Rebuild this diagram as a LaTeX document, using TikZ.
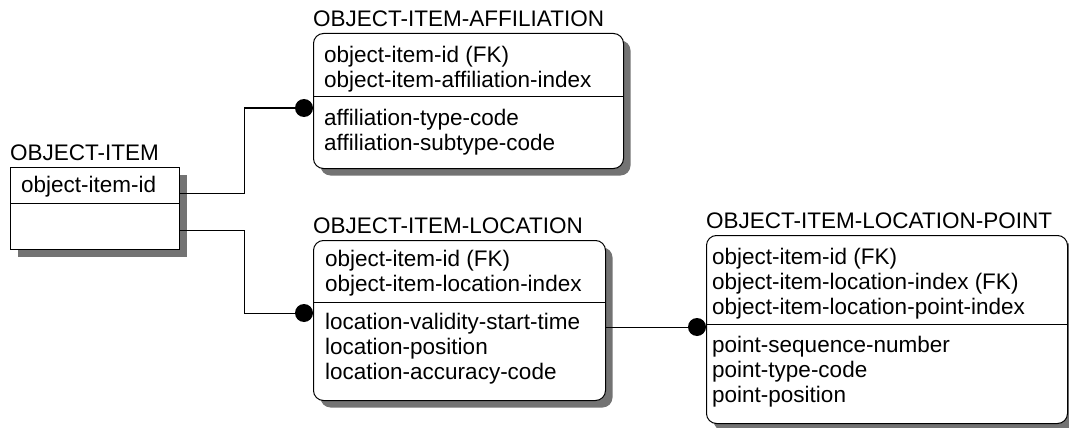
\documentclass[tikz,border=0pt]{standalone}
\usepackage{fontspec}
\setmainfont{Liberation Sans}
\usetikzlibrary{shadows}
\begin{document}
\begin{tikzpicture}[x=1pt,y=-1pt,
  every node/.style={font=\fontsize{22.5}{25}\selectfont},
  ent/.style={draw=black, line width=1pt, fill=white, anchor=north west, inner sep=0pt,
    drop shadow={shadow xshift=7pt, shadow yshift=-7pt, fill=black!55, opacity=1}},
  rent/.style={ent, rounded corners=10pt},
  lbl/.style={anchor=base west, inner sep=0pt},
  rel/.style={draw=black, line width=1pt},
  dot/.style={circle, fill=black, inner sep=0pt, minimum size=18pt}]
\useasboundingbox (0,0) rectangle (1069,428);

% entity boxes
\node[ent,  minimum width=169pt, minimum height=82pt]  (oi)   at (10,167)  {};
\node[rent, minimum width=310pt, minimum height=135pt] (oia)  at (313,33)  {};
\node[rent, minimum width=292pt, minimum height=160pt] (oil)  at (313,240) {};
\node[rent, minimum width=361pt, minimum height=188pt] (oilp) at (706,235) {};

% key / non-key separators
\draw[line width=1pt] (oi.west |- 0,203)   -- (oi.east |- 0,203);
\draw[line width=1pt] (oia.west |- 0,97)   -- (oia.east |- 0,97);
\draw[line width=1pt] (oil.west |- 0,302)  -- (oil.east |- 0,302);
\draw[line width=1pt] (oilp.west |- 0,324) -- (oilp.east |- 0,324);

% entity names
\node[lbl] (oi-t)   at (10,160)  {OBJECT-ITEM};
\node[lbl] (oia-t)  at (313,27)  {OBJECT-ITEM-AFFILIATION};
\node[lbl] (oil-t)  at (313,233) {OBJECT-ITEM-LOCATION};
\node[lbl] (oilp-t) at (706,228) {OBJECT-ITEM-LOCATION-POINT};

% OBJECT-ITEM attributes
\node[lbl] (oi-k1) at (21,192) {object-item-id};

% OBJECT-ITEM-AFFILIATION attributes
\node[lbl] (oia-k1) at (324,63)  {object-item-id (FK)};
\node[lbl] (oia-k2) at (324,88)  {object-item-affiliation-index};
\node[lbl] (oia-a1) at (324,125) {affiliation-type-code};
\node[lbl] (oia-a2) at (324,150) {affiliation-subtype-code};

% OBJECT-ITEM-LOCATION attributes
\node[lbl] (oil-k1) at (325,266) {object-item-id (FK)};
\node[lbl] (oil-k2) at (325,291) {object-item-location-index};
\node[lbl] (oil-a1) at (325,329) {location-validity-start-time};
\node[lbl] (oil-a2) at (325,354) {location-position};
\node[lbl] (oil-a3) at (325,379) {location-accuracy-code};

% OBJECT-ITEM-LOCATION-POINT attributes
\node[lbl] (oilp-k1) at (712,264) {object-item-id (FK)};
\node[lbl] (oilp-k2) at (712,289) {object-item-location-index (FK)};
\node[lbl] (oilp-k3) at (712,314) {object-item-location-point-index};
\node[lbl] (oilp-a1) at (712,352) {point-sequence-number};
\node[lbl] (oilp-a2) at (712,377) {point-type-code};
\node[lbl] (oilp-a3) at (712,402) {point-position};

% relationship ends (many side)
\node[dot] (d1) at (304,108) {};
\node[dot] (d2) at (304,313) {};
\node[dot] (d3) at (697,327) {};

% relationship start points on the parent side
\coordinate (s1) at (oi.east |- 0,193);
\coordinate (s2) at (oi.east |- 0,230);
\coordinate (s3) at (oil.east |- d3);

% relationships
\draw[rel] (s1) -- ++(64,0) |- (d1.center);
\draw[rel] (s2) -- ++(64,0) |- (d2.center);
\draw[rel] (s3) -- (d3.center);
\end{tikzpicture}
\end{document}
